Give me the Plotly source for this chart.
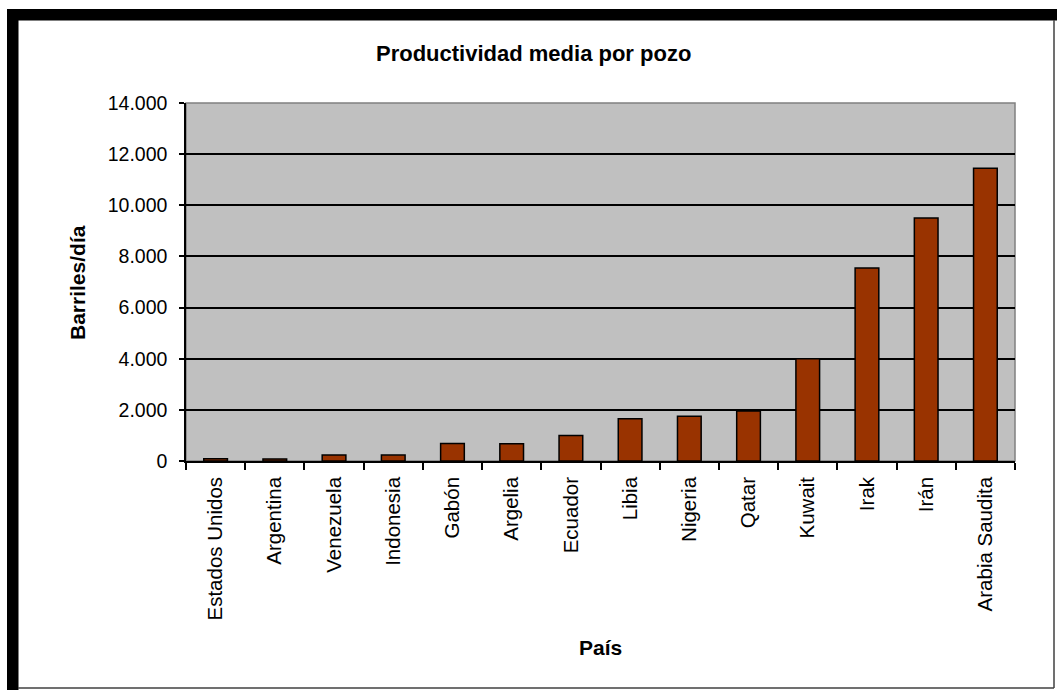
import plotly.graph_objects as go

paises = ["Estados Unidos", "Argentina", "Venezuela", "Indonesia", "Gabón", "Argelia",
          "Ecuador", "Libia", "Nigeria", "Qatar", "Kuwait", "Irak", "Irán", "Arabia Saudita"]
barriles = [90, 80, 235, 230, 680, 670, 1000, 1650, 1750, 1960, 4000, 7550, 9500, 11450]
y_ticks = [0, 2000, 4000, 6000, 8000, 10000, 12000, 14000]

W, H = 1057, 691
L, R, T, B = 186, 1015, 103, 461  # plot area pixel box


def px(x):
    return (x - L) / (R - L)


def py(y):
    return (B - y) / (B - T)


FONT = "Liberation Sans, Arial, sans-serif"

fig = go.Figure(go.Bar(
    x=paises, y=barriles, width=0.4,
    marker=dict(color="#993300", line=dict(color="black", width=1.5)),
))

shapes = [
    # outer frame
    dict(type="rect", xref="paper", yref="paper", x0=px(7), x1=px(18.5), y0=py(690), y1=py(9),
         fillcolor="black", line=dict(width=0), layer="above"),
    dict(type="rect", xref="paper", yref="paper", x0=px(7), x1=px(1057), y0=py(20.5), y1=py(9),
         fillcolor="black", line=dict(width=0), layer="above"),
    dict(type="line", xref="paper", yref="paper", x0=px(1054), x1=px(1054), y0=py(688), y1=py(20),
         line=dict(color="#404040", width=1.5), layer="above"),
    dict(type="line", xref="paper", yref="paper", x0=px(18), x1=px(1054), y0=py(688), y1=py(688),
         line=dict(color="#404040", width=1.5), layer="above"),
    # plot area border (gray)
    dict(type="rect", xref="paper", yref="paper", x0=0, x1=1, y0=0, y1=1,
         line=dict(color="#808080", width=1.5), layer="below"),
]

annotations = [
    dict(text="<b>Productividad media por pozo</b>", xref="paper", yref="paper",
         x=px(533), y=py(53), showarrow=False, xanchor="center", yanchor="middle",
         font=dict(size=22, color="black", family=FONT)),
    dict(text="<b>Barriles/día</b>", xref="paper", yref="paper", textangle=-90,
         x=px(77), y=py(283), showarrow=False, xanchor="center", yanchor="middle",
         font=dict(size=21, color="black", family=FONT)),
    dict(text="<b>País</b>", xref="paper", yref="paper",
         x=px(600), y=py(647), showarrow=False, xanchor="center", yanchor="middle",
         font=dict(size=21, color="black", family=FONT)),
]

fig.update_layout(
    width=W, height=H,
    margin=dict(l=L, r=W - R, t=T, b=H - B, pad=0),
    paper_bgcolor="white", plot_bgcolor="#C0C0C0",
    separators=",.",
    showlegend=False,
    font=dict(family=FONT, size=19, color="black"),
    shapes=shapes, annotations=annotations,
    bargap=0.6,
)
fig.update_xaxes(
    type="category", tickangle=-90, tickson="boundaries",
    ticks="outside", ticklen=7, tickcolor="black", tickwidth=1.5,
    showline=True, linecolor="black", linewidth=1.5,
    showgrid=False, ticklabelstandoff=6,
    tickfont=dict(size=20.5, family=FONT),
)
fig.update_yaxes(
    range=[0, 14000], tickvals=y_ticks, tickformat=",d",
    ticks="outside", ticklen=5, tickcolor="black", tickwidth=1.5,
    showline=True, linecolor="black", linewidth=1.5,
    showgrid=True, gridcolor="black", gridwidth=1.5,
    zeroline=False, ticklabelstandoff=8,
    tickfont=dict(size=19.5, family=FONT),
)

fig.write_html("out.html")
